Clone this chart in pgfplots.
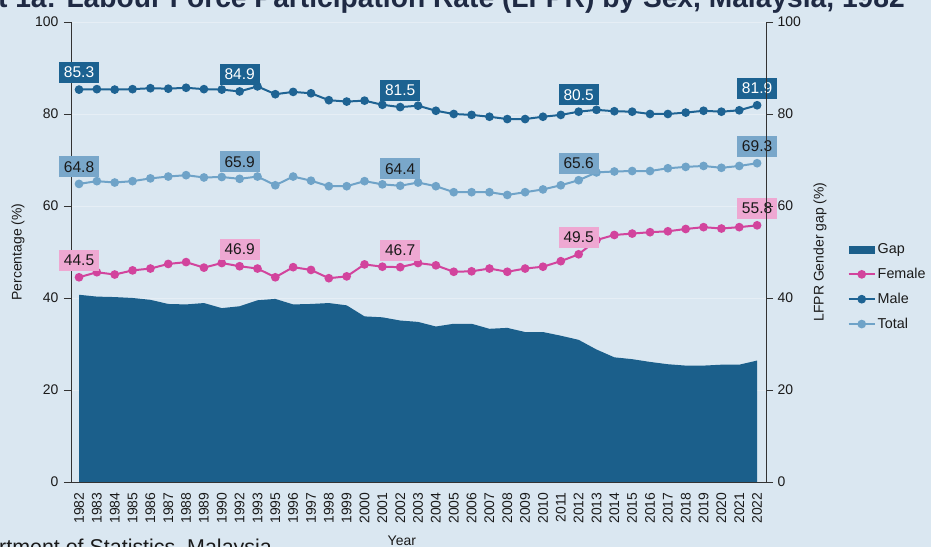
\documentclass[border=0pt]{standalone}
\usepackage{pgfplots}
\usepackage{pgfplotstable}
\pgfplotsset{compat=1.18}
\usepackage{fontspec}
\setmainfont{Liberation Sans}
\setsansfont{Liberation Sans}
\definecolor{bg}{HTML}{DAE7F1}
\definecolor{gridc}{HTML}{E6EEF5}
\definecolor{gapc}{HTML}{1B5F8B}
\definecolor{malec}{HTML}{1E6393}
\definecolor{totalc}{HTML}{6FA3C8}
\definecolor{femalec}{HTML}{D2449D}
\definecolor{malelab}{HTML}{1C6291}
\definecolor{totallab}{HTML}{79A7CA}
\definecolor{femalelab}{HTML}{EEA8D2}
\definecolor{titlec}{HTML}{1F2A44}
\definecolor{txt}{HTML}{1A1A1A}

\pgfplotstableread{
idx year male female total gap
0  1982 85.3 44.5 64.8 40.7
1  1983 85.4 45.6 65.4 40.3
2  1984 85.3 45.1 65.1 40.2
3  1985 85.4 46.0 65.4 40.0
4  1986 85.6 46.4 66.0 39.6
5  1987 85.5 47.4 66.4 38.7
6  1988 85.7 47.8 66.7 38.6
7  1989 85.4 46.6 66.2 38.9
8  1990 85.3 47.6 66.3 37.8
9  1992 84.9 46.9 65.9 38.2
10 1993 86.0 46.4 66.4 39.5
11 1995 84.3 44.5 64.5 39.8
12 1996 84.8 46.7 66.4 38.6
13 1997 84.5 46.1 65.5 38.7
14 1998 83.0 44.3 64.3 38.9
15 1999 82.7 44.7 64.3 38.4
16 2000 82.9 47.3 65.4 36.0
17 2001 82.0 46.8 64.7 35.8
18 2002 81.5 46.7 64.4 35.1
19 2003 81.8 47.6 65.1 34.8
20 2004 80.7 47.1 64.3 33.8
21 2005 80.0 45.7 63.0 34.4
22 2006 79.8 45.8 63.0 34.4
23 2007 79.4 46.4 63.0 33.3
24 2008 78.9 45.7 62.4 33.5
25 2009 78.9 46.4 63.0 32.6
26 2010 79.4 46.8 63.6 32.6
27 2011 79.8 48.0 64.5 31.8
28 2012 80.5 49.5 65.6 30.9
29 2013 80.9 52.6 67.3 28.8
30 2014 80.6 53.7 67.5 27.1
31 2015 80.5 54.0 67.6 26.7
32 2016 80.0 54.3 67.6 26.1
33 2017 80.0 54.5 68.2 25.6
34 2018 80.3 55.0 68.5 25.3
35 2019 80.7 55.4 68.7 25.3
36 2020 80.5 55.1 68.3 25.5
37 2021 80.8 55.4 68.7 25.5
38 2022 81.9 55.8 69.3 26.4
}\lfpr

\pgfplotsset{
  base/.style={
    at={(71bp,65bp)}, anchor=south west,
    scale only axis, width=695bp, height=460bp,
    xmin=-0.45, xmax=38.5, ymin=0, ymax=100,
    ytick={0,20,...,100},
    tick align=outside,
    major tick length=7bp,
    tick label style={font=\fontsize{14}{16}\selectfont, text=txt},
    label style={font=\fontsize{14}{16}\selectfont, text=txt},
    /pgf/number format/assume math mode=true,
    axis line style={draw=black!80, line width=0.9bp},
    y tick style={draw=black!80, line width=0.8bp},
  },
  lab/.style={
    draw=none, mark=none, forget plot,
    nodes near coords, point meta=y,
    nodes near coords align={center},
    /pgf/number format/fixed, /pgf/number format/fixed zerofill,
    /pgf/number format/precision=1, /pgf/number format/assume math mode=true,
    every node near coord/.append style={
      yshift=17bp, inner sep=0pt, minimum width=40bp, minimum height=21bp,
      font=\fontsize{15.6}{17}\selectfont},
  },
}

\begin{document}
\begin{tikzpicture}[x=1bp,y=1bp]
\fill[bg] (0,0) rectangle (931,547);
\node[anchor=base east, font=\bfseries\fontsize{28.3}{32}\selectfont, text=titlec, inner sep=0pt] at (905,539) {Chart 1a: Labour Force Participation Rate (LFPR) by Sex, Malaysia, 1982};
\node[anchor=base east, font=\fontsize{21.5}{25}\selectfont, text=txt, inner sep=0pt] at (272,-8) {Source: Department of Statistics, Malaysia};

\begin{axis}[base,
  axis x line*=bottom, axis y line*=left,
  ymajorgrids, grid style={draw=gridc, line width=0.8bp},
  xtick={0,1,...,38},
  xticklabels={1982,1983,1984,1985,1986,1987,1988,1989,1990,1992,1993,1995,1996,1997,1998,1999,2000,2001,2002,2003,2004,2005,2006,2007,2008,2009,2010,2011,2012,2013,2014,2015,2016,2017,2018,2019,2020,2021,2022},
  x tick style={draw=none},
  xticklabel style={rotate=90, anchor=east},
  yticklabel style={xshift=-2bp},
  ylabel={Percentage (\%)},
  ylabel style={at={(axis description cs:-0.0763,0.5)}, anchor=center},
  xlabel={Year},
  xlabel style={at={(axis description cs:0.476,-0.128)}, anchor=center},
  legend style={at={(axis description cs:1.113,0.424)}, anchor=west,
    draw=none, fill=none, font=\fontsize{14.4}{16}\selectfont, text=txt,
    row sep=9bp, cells={anchor=west}},
  legend image code/.code={\draw[mark repeat=2,mark phase=2,#1] plot coordinates {(0bp,0bp)(13bp,0bp)(26bp,0bp)};},
]
\addplot[fill=gapc, draw=none,
  legend image code/.code={\fill[gapc] (0bp,-4bp) rectangle (26bp,4bp);}]
  table[x=idx, y=gap] {\lfpr} \closedcycle;
\addlegendentry{Gap}
\addplot[femalec, line width=2bp, mark=*, mark size=3.3bp] table[x=idx, y=female] {\lfpr};
\addlegendentry{Female}
\addplot[malec, line width=2bp, mark=*, mark size=3.3bp] table[x=idx, y=male] {\lfpr};
\addlegendentry{Male}
\addplot[totalc, line width=2bp, mark=*, mark size=3.3bp] table[x=idx, y=total] {\lfpr};
\addlegendentry{Total}

\addplot[lab, every node near coord/.append style={fill=malelab, text=white}]
  coordinates {(0,85.3) (9,84.9) (18,81.5) (28,80.5) (38,81.9)};
\addplot[lab, every node near coord/.append style={fill=totallab, text=txt}]
  coordinates {(0,64.8) (9,65.9) (18,64.4) (28,65.6) (38,69.3)};
\addplot[lab, every node near coord/.append style={fill=femalelab, text=txt}]
  coordinates {(0,44.5) (9,46.9) (18,46.7) (28,49.5) (38,55.8)};
\end{axis}

\begin{axis}[base,
  axis x line=none, axis y line*=right,
  yticklabel style={xshift=1bp},
  ylabel={LFPR Gender gap (\%)},
  ylabel style={at={(axis description cs:1.0777,0.5)}, anchor=center},
]
\addplot[draw=none, mark=none] coordinates {(0,0)};
\end{axis}

\pgfresetboundingbox
\useasboundingbox (0,0) rectangle (931,547);
\end{tikzpicture}
\end{document}
